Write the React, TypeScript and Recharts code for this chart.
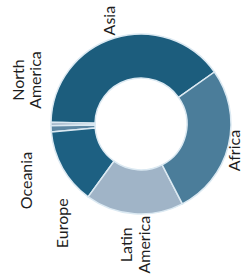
import { PieChart, Pie, Cell } from 'recharts'

const regions = ['Asia', 'North America', 'Oceania', 'Europe', 'Latin America', 'Africa']
const shares = [39.9, 0.6, 1.1, 13.6, 17.6, 27.2]

const COLORS: Record<string, string> = {
    'Asia': '#1c5d7d',
    'North America': '#a3b6c8',
    'Oceania': '#5d87a3',
    'Europe': '#1d6082',
    'Latin America': '#a0b4c7',
    'Africa': '#4b7d9a',
}

// labels get pushed around in the original so they don't collide
const LABEL_NUDGE: Record<string, [number, number]> = {
    'Asia': [-1, -4],
    'North America': [-10, -44],
    'Oceania': [-11, 51],
    'Europe': [12, 48],
    'Latin America': [2, 17],
    'Africa': [-8, 2],
}

const data = regions.map((name, i) => ({ name, value: shares[i] }))

const RADIAN = Math.PI / 180

const renderLabel = (props: any) => {
    const { cx, cy, midAngle, outerRadius, name } = props
    const r = outerRadius + 14
    const [nx, ny] = LABEL_NUDGE[name] ?? [0, 0]
    const x = cx + r * Math.cos(-midAngle * RADIAN) + nx
    const y = cy + r * Math.sin(-midAngle * RADIAN) + ny
    const lines = String(name).split(' ')
    const lineH = 1.1
    return (
        <text
            x={x}
            y={y}
            transform={`rotate(-90 ${x} ${y})`}
            textAnchor="middle"
            fill="#1e1e1e"
            fontSize={16}
            fontFamily="Lato, 'Open Sans', sans-serif"
        >
            {lines.map((line, i) => (
                <tspan
                    key={line}
                    x={x}
                    dy={i === 0 ? `${0.35 - ((lines.length - 1) * lineH) / 2}em` : `${lineH}em`}
                >
                    {line}
                </tspan>
            ))}
        </text>
    )
}

export default function App() {
    return (
        <div style={{ position: 'absolute', left: 0, top: 0, width: 244, height: 279, background: '#fff' }}>
            <PieChart width={244} height={279} margin={{ top: 0, right: 0, bottom: 0, left: 0 }}>
                <Pie
                    data={data}
                    dataKey="value"
                    nameKey="name"
                    cx={141}
                    cy={124}
                    innerRadius={46}
                    outerRadius={90}
                    startAngle={35.3}
                    endAngle={395.3}
                    stroke="#dbe9f2"
                    strokeWidth={1.5}
                    label={renderLabel}
                    labelLine={false}
                    isAnimationActive={false}
                >
                    {data.map((entry) => (
                        <Cell key={entry.name} fill={COLORS[entry.name]} />
                    ))}
                </Pie>
            </PieChart>
        </div>
    )
}
